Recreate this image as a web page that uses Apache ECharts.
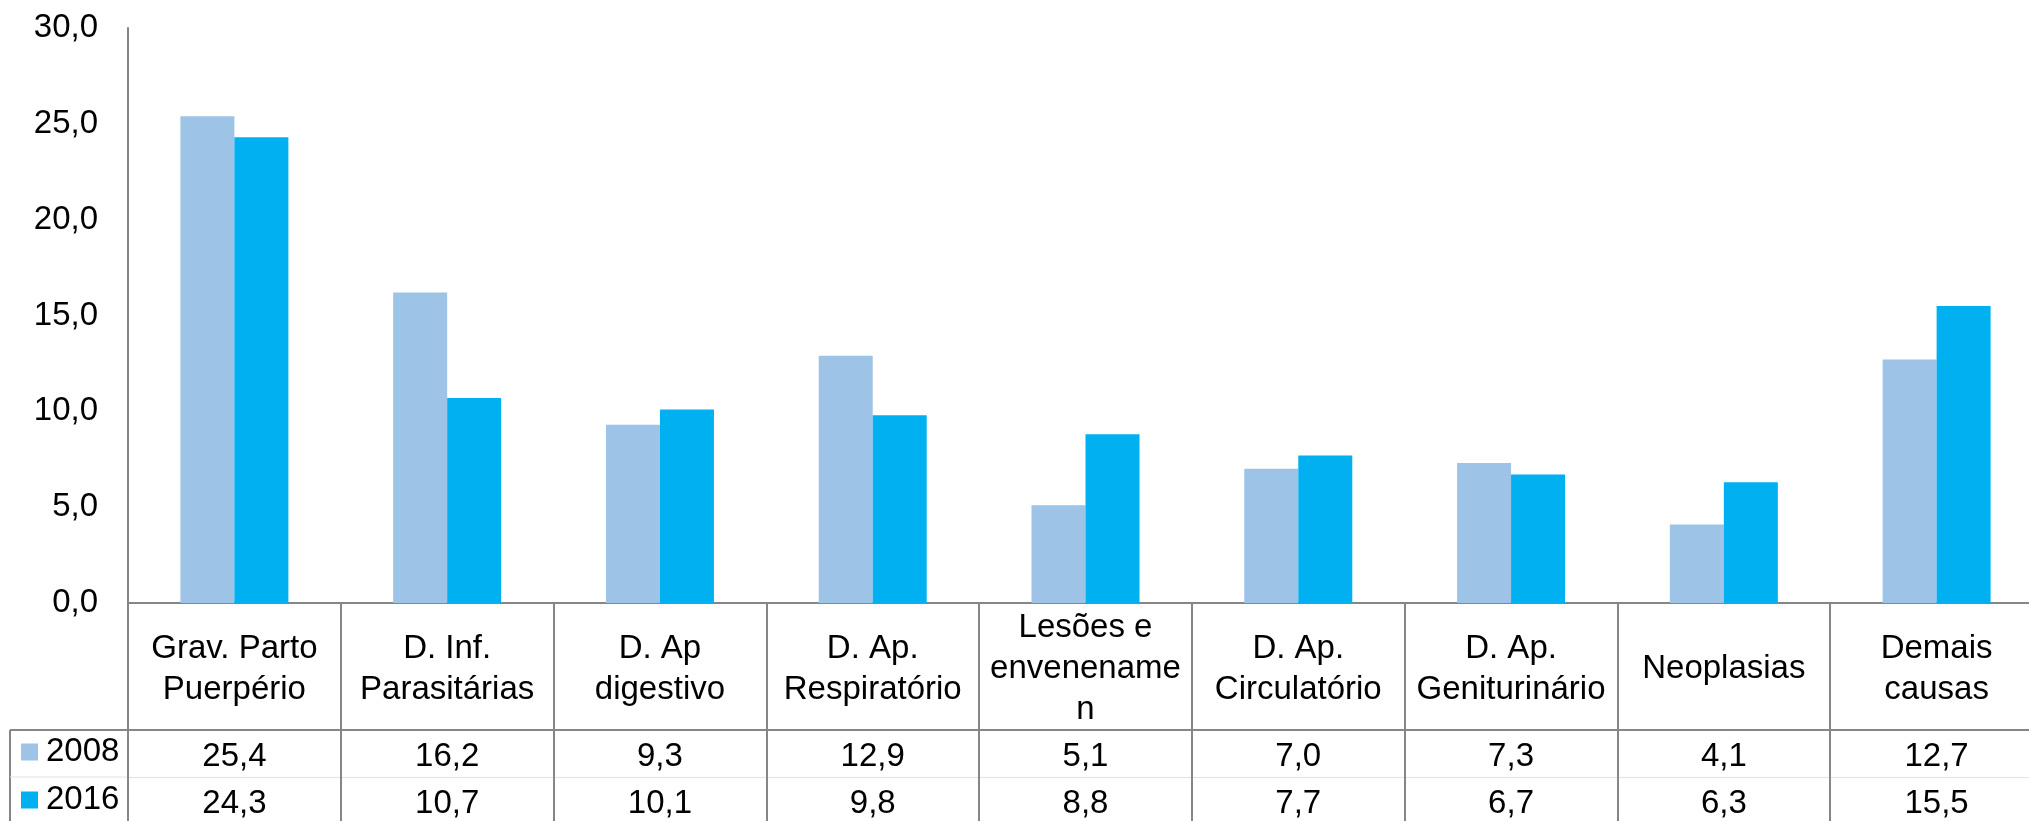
<!DOCTYPE html>
<html>
<head>
<meta charset="utf-8">
<script src="https://cdn.jsdelivr.net/npm/echarts@6/dist/echarts.min.js"></script>
<style>
  html, body { margin: 0; padding: 0; overflow: hidden; background: #fff; }
  #chart { width: 2043px; height: 821px; }
</style>
</head>
<body>
<div id="chart"></div>
<script>
// categories (line breaks as in the original table header)
const categories = [
  "Grav. Parto\nPuerpério",
  "D. Inf.\nParasitárias",
  "D. Ap\ndigestivo",
  "D. Ap.\nRespiratório",
  "Lesões e\nenvenename\nn",
  "D. Ap.\nCirculatório",
  "D. Ap.\nGeniturinário",
  "Neoplasias",
  "Demais\ncausas"
]
const years = ["2008", "2016"]
const values2008 = [25.4, 16.2, 9.3, 12.9, 5.1, 7.0, 7.3, 4.1, 12.7]
const values2016 = [24.3, 10.7, 10.1, 9.8, 8.8, 7.7, 6.7, 6.3, 15.5]
const yMin = 0
const yMax = 30
const yStep = 5

const FONT = "'Liberation Sans', Arial, sans-serif"
const GRID_LINE = "#868686"

// 25.4 -> "25,4"
const fmt = v => Number(v).toFixed(1).replace(".", ",")

const chart = echarts.init(document.getElementById("chart"))

// one extra x axis per table row, placed under the category header
function rowAxis(values, offset, lineColor, lineWidth) {
  return {
    type: "category",
    position: "bottom",
    offset: offset,
    data: categories,
    axisLine: { show: true, onZero: false, lineStyle: { color: lineColor, width: lineWidth } },
    axisTick: { show: false },
    axisLabel: {
      interval: 0,
      margin: 27,
      verticalAlign: "middle",
      fontFamily: FONT,
      fontSize: 33,
      color: "#000",
      formatter: (v, i) => fmt(values[i])
    }
  }
}

chart.setOption({
  animation: false,
  textStyle: { fontFamily: FONT },
  grid: { left: 128, right: 0, top: 28, bottom: 218, containLabel: false },
  legend: {
    data: years,
    orient: "vertical",
    left: 21,
    top: 735,
    padding: 0,
    icon: "rect",
    itemWidth: 17,
    itemHeight: 17,
    itemGap: 14,
    textStyle: { fontFamily: FONT, fontSize: 33, lineHeight: 34, color: "#000", padding: [0, 0, 0, 3] }
  },
  xAxis: [
    {
      type: "category",
      position: "bottom",
      data: categories,
      axisLine: { show: true, lineStyle: { color: GRID_LINE, width: 2 } },
      axisTick: { show: true, length: 218, lineStyle: { color: GRID_LINE, width: 2 } },
      axisLabel: {
        interval: 0,
        margin: 66,
        verticalAlign: "middle",
        fontFamily: FONT,
        fontSize: 33,
        lineHeight: 41,
        color: "#000"
      }
    },
    rowAxis(values2008, 127, GRID_LINE, 2),
    rowAxis(values2016, 174, "#e2e2e2", 1)
  ],
  yAxis: {
    type: "value",
    min: yMin,
    max: yMax,
    interval: yStep,
    axisLine: { show: true, lineStyle: { color: GRID_LINE, width: 2 } },
    axisTick: { show: false },
    splitLine: { show: false },
    axisLabel: {
      margin: 30,
      fontFamily: FONT,
      fontSize: 33,
      color: "#000",
      formatter: fmt
    }
  },
  // left part of the data table (legend column borders)
  graphic: [
    { type: "line", shape: { x1: 10, y1: 730, x2: 128, y2: 730 }, style: { stroke: GRID_LINE, lineWidth: 2 } },
    { type: "line", shape: { x1: 10, y1: 730, x2: 10, y2: 821 }, style: { stroke: GRID_LINE, lineWidth: 2 } },
    { type: "line", shape: { x1: 10, y1: 777, x2: 128, y2: 777 }, style: { stroke: "#e2e2e2", lineWidth: 1 } }
  ],
  series: [
    {
      name: years[0],
      type: "bar",
      xAxisIndex: 0,
      data: values2008,
      barWidth: 54,
      barGap: "0%",
      itemStyle: { color: "#9DC3E6" }
    },
    {
      name: years[1],
      type: "bar",
      xAxisIndex: 0,
      data: values2016,
      barWidth: 54,
      barGap: "0%",
      itemStyle: { color: "#00B0F0" }
    }
  ]
})
</script>
</body>
</html>
